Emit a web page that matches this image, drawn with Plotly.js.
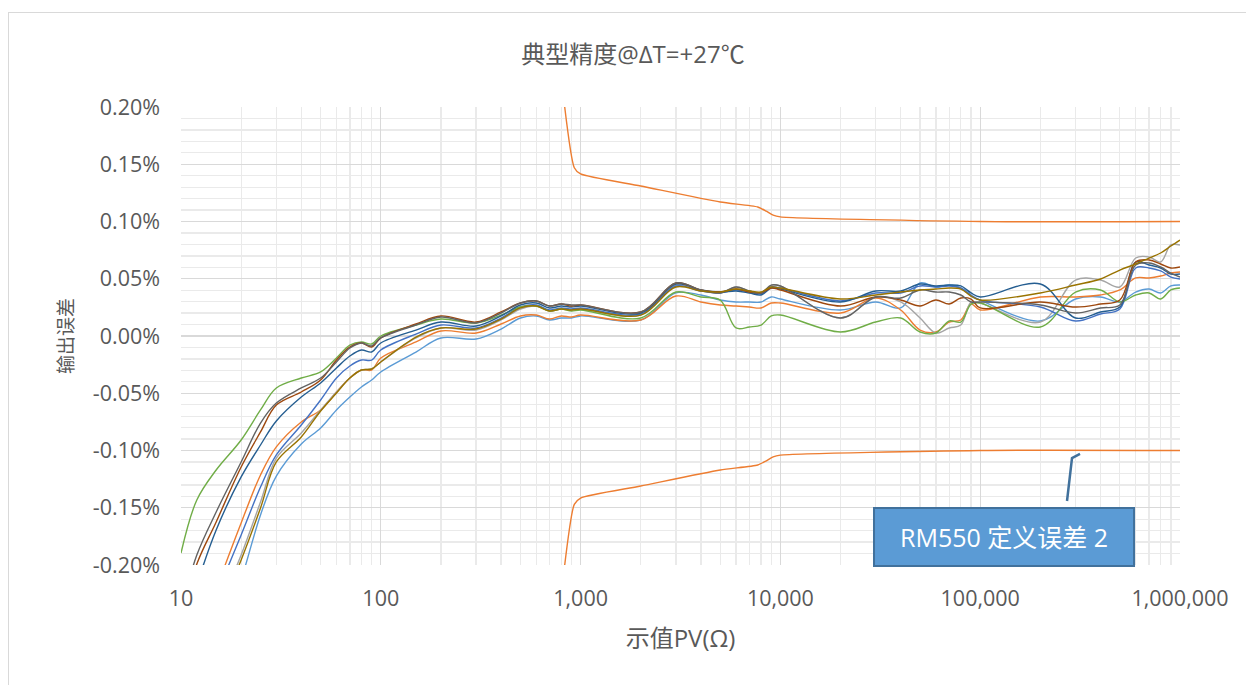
<!DOCTYPE html>
<html>
<head>
<meta charset="utf-8">
<script src="https://cdn.plot.ly/plotly-3.0.1.min.js"></script>
<style>
html,body{margin:0;padding:0;background:#fff;overflow:hidden;width:1246px;height:685px;}
#frame{position:absolute;left:8px;top:12px;width:1300px;height:720px;border:1px solid #d9d9d9;}
#chart{position:absolute;left:0;top:0;width:1246px;height:685px;}
</style>
</head>
<body>
<div id="frame"></div>
<div id="chart"></div>
<script>
// Resistance values (Ω) shared by the measured curves
const resistance = [10,12,15,20,25,30,40,50,60,70,80,90,
  100,150,200,300,400,500,600,700,800,900,
  1000,2000,3000,4000,5000,6000,7000,8000,9000,
  10000,20000,30000,40000,50000,60000,70000,80000,90000,
  100000,200000,300000,400000,500000,600000,700000,800000,900000,1000000];

// Output error (%) of each unit
const errLightBlue = [-0.3703,-0.3310,-0.2786,-0.2131,-0.1563,-0.1223,-0.0943,-0.0803,-0.0646,-0.0533,-0.0445,-0.0384,
  -0.0314,-0.0140,-0.0017,-0.0026,0.0061,0.0157,0.0175,0.0140,0.0157,0.0157,
  0.0175,0.0140,0.0376,0.0358,0.0314,0.0297,0.0297,0.0297,0.0341,
  0.0323,0.0227,0.0297,0.0245,0.0463,0.0428,0.0445,0.0419,0.0349,
  0.0314,0.0131,0.0323,0.0341,0.0297,0.0384,0.0410,0.0376,0.0437,0.0445];
const errOrange = [-0.3179,-0.2742,-0.2218,-0.1633,-0.1214,-0.0969,-0.0751,-0.0646,-0.0489,-0.0367,-0.0297,-0.0297,
  -0.0192,-0.0052,0.0044,0.0026,0.0105,0.0175,0.0183,0.0148,0.0175,0.0166,
  0.0183,0.0140,0.0349,0.0297,0.0271,0.0262,0.0253,0.0245,0.0288,
  0.0288,0.0201,0.0332,0.0227,0.0052,0.0035,0.0122,0.0140,0.0279,
  0.0227,0.0341,0.0341,0.0358,0.0402,0.0507,0.0507,0.0524,0.0550,0.0559];
const errGray = [-0.3397,-0.2960,-0.2437,-0.1913,-0.1450,-0.1066,-0.0847,-0.0646,-0.0489,-0.0367,-0.0297,-0.0288,
  -0.0227,-0.0017,0.0070,0.0052,0.0140,0.0236,0.0262,0.0218,0.0236,0.0227,
  0.0236,0.0183,0.0445,0.0393,0.0376,0.0428,0.0393,0.0376,0.0445,
  0.0437,0.0157,0.0341,0.0297,0.0157,0.0026,0.0070,0.0096,0.0297,
  0.0288,0.0122,0.0489,0.0489,0.0428,0.0681,0.0690,0.0646,0.0795,0.0795];
const errBlue = [-0.3092,-0.2655,-0.2262,-0.1738,-0.1319,-0.1039,-0.0777,-0.0559,-0.0367,-0.0262,-0.0210,-0.0210,
  -0.0122,0.0017,0.0096,0.0070,0.0157,0.0253,0.0271,0.0227,0.0245,0.0236,
  0.0245,0.0192,0.0437,0.0393,0.0376,0.0402,0.0384,0.0367,0.0428,
  0.0419,0.0306,0.0376,0.0376,0.0437,0.0428,0.0437,0.0419,0.0358,
  0.0314,0.0253,0.0131,0.0192,0.0236,0.0594,0.0594,0.0568,0.0515,0.0498];
const errGreen = [-0.1895,-0.1432,-0.1170,-0.0908,-0.0646,-0.0454,-0.0367,-0.0314,-0.0192,-0.0079,-0.0052,-0.0070,
  0.0000,0.0096,0.0148,0.0114,0.0183,0.0253,0.0262,0.0218,0.0236,0.0218,
  0.0227,0.0157,0.0384,0.0341,0.0314,0.0070,0.0079,0.0096,0.0175,
  0.0183,0.0035,0.0122,0.0157,0.0035,0.0026,0.0131,0.0122,0.0279,
  0.0288,0.0079,0.0384,0.0402,0.0297,0.0358,0.0376,0.0323,0.0402,0.0419];
const errDarkBlue = [-0.2655,-0.2175,-0.1694,-0.1231,-0.0952,-0.0742,-0.0533,-0.0410,-0.0279,-0.0175,-0.0122,-0.0140,
  -0.0061,0.0052,0.0122,0.0087,0.0175,0.0271,0.0288,0.0245,0.0262,0.0253,
  0.0262,0.0201,0.0454,0.0402,0.0384,0.0393,0.0376,0.0358,0.0419,
  0.0410,0.0297,0.0393,0.0393,0.0454,0.0437,0.0445,0.0437,0.0376,
  0.0341,0.0454,0.0157,0.0210,0.0253,0.0646,0.0620,0.0594,0.0541,0.0541];
const errBrown = [-0.2480,-0.1991,-0.1624,-0.1144,-0.0838,-0.0603,-0.0489,-0.0384,-0.0210,-0.0096,-0.0061,-0.0096,
  -0.0017,0.0105,0.0175,0.0122,0.0210,0.0288,0.0306,0.0262,0.0279,0.0262,
  0.0271,0.0210,0.0463,0.0402,0.0384,0.0410,0.0384,0.0376,0.0419,
  0.0402,0.0262,0.0341,0.0314,0.0262,0.0314,0.0279,0.0332,0.0323,
  0.0245,0.0297,0.0253,0.0279,0.0314,0.0646,0.0664,0.0629,0.0594,0.0603];
const errDarkGray = [-0.2393,-0.1913,-0.1537,-0.1100,-0.0760,-0.0585,-0.0454,-0.0367,-0.0227,-0.0105,-0.0061,-0.0087,
  -0.0017,0.0096,0.0166,0.0114,0.0201,0.0288,0.0306,0.0262,0.0279,0.0271,
  0.0271,0.0210,0.0463,0.0402,0.0376,0.0428,0.0393,0.0376,0.0445,
  0.0437,0.0157,0.0341,0.0332,0.0402,0.0384,0.0384,0.0358,0.0297,
  0.0297,0.0271,0.0201,0.0245,0.0271,0.0620,0.0638,0.0603,0.0550,0.0515];
const errGold = [-0.3441,-0.3004,-0.2480,-0.1956,-0.1502,-0.1100,-0.0882,-0.0655,-0.0498,-0.0367,-0.0297,-0.0288,
  -0.0227,-0.0009,0.0070,0.0061,0.0148,0.0245,0.0262,0.0218,0.0236,0.0227,
  0.0236,0.0183,0.0428,0.0393,0.0384,0.0410,0.0393,0.0384,0.0428,
  0.0419,0.0323,0.0358,0.0384,0.0402,0.0410,0.0419,0.0410,0.0349,
  0.0314,0.0376,0.0445,0.0498,0.0576,0.0629,0.0681,0.0725,0.0786,0.0838];

// Specification limits (%)
const limitResistance = [800,930,1000,2000,5000,7700,8500,9200,10000,100000,1000000];
const upperLimit = [0.226,0.147,0.1415,0.131,0.117,0.1127,0.109,0.1055,0.104,0.100,0.100];
const lowerLimit = [-0.226,-0.147,-0.1415,-0.131,-0.117,-0.1127,-0.109,-0.1055,-0.104,-0.100,-0.100];

// Axis ticks
const xTickVals = [10,100,1000,10000,100000,1000000];
const xTickText = ['10','100','1,000','10,000','100,000','1,000,000'];
const yTickVals = [-0.20,-0.15,-0.10,-0.05,0,0.05,0.10,0.15,0.20];
const yTickText = ['-0.20%','-0.15%','-0.10%','-0.05%','0.00%','0.05%','0.10%','0.15%','0.20%'];

const series = [
  {y: errLightBlue, c:'#5B9BD5'},
  {y: errOrange,    c:'#ED7D31'},
  {y: errGray,      c:'#A5A5A5'},
  {y: errBlue,      c:'#4472C4'},
  {y: errGreen,     c:'#70AD47'},
  {y: errDarkBlue,  c:'#255E91'},
  {y: errBrown,     c:'#9E480E'},
  {y: errDarkGray,  c:'#636363'},
  {y: errGold,      c:'#997300'}
];

const traces = series.map(s => ({
  x: resistance, y: s.y, type:'scatter', mode:'lines',
  line:{color:s.c, width:1.4, shape:'spline', smoothing:1},
  hoverinfo:'skip'
}));
traces.push({x: limitResistance, y: upperLimit, type:'scatter', mode:'lines',
  line:{color:'#ED7D31', width:1.4, shape:'spline', smoothing:0.6}, hoverinfo:'skip'});
traces.push({x: limitResistance, y: lowerLimit, type:'scatter', mode:'lines',
  line:{color:'#ED7D31', width:1.4, shape:'spline', smoothing:0.6}, hoverinfo:'skip'});

const latinFam = '"Open Sans", "Noto Sans CJK SC", sans-serif';
const cjkFam = '"Noto Sans CJK SC", "Open Sans", sans-serif';

const layout = {
  width:1246, height:685,
  margin:{l:181, r:66, t:107, b:120},
  paper_bgcolor:'rgba(0,0,0,0)', plot_bgcolor:'rgba(0,0,0,0)',
  showlegend:false,
  font:{family:latinFam, color:'#595959', size:18},
  title:{text:'典型精度@ΔT=+27℃', x:0.508, xanchor:'center', y:0.92, yanchor:'middle',
         font:{family:latinFam, size:24, color:'#595959'}},
  xaxis:{
    type:'log', range:[1,6], tickmode:'array', tickvals:xTickVals, ticktext:xTickText,
    showgrid:true, gridcolor:'#D9D9D9', gridwidth:1.3,
    minor:{dtick:'D1', showgrid:true, gridcolor:'#EAEAEA', gridwidth:1.3, ticks:''},
    zeroline:false, showline:false, ticks:'', ticklabelstandoff:18,
    tickfont:{family:latinFam, size:21.5, color:'#595959'},
    title:{text:'示值PV(Ω)', standoff:19, font:{family:latinFam, size:24, color:'#595959'}}
  },
  yaxis:{
    range:[-0.2,0.2], tickmode:'array', tickvals:yTickVals, ticktext:yTickText,
    showgrid:true, gridcolor:'#D9D9D9', gridwidth:1.3,
    minor:{tickmode:'linear', tick0:0, dtick:0.01, showgrid:true, gridcolor:'#EAEAEA', gridwidth:1.3, ticks:''},
    zeroline:false, showline:false, ticks:'', ticklabelstandoff:20,
    tickfont:{family:latinFam, size:21.5, color:'#595959'},
    title:{text:'输出误差', standoff:14, font:{family:cjkFam, size:19, color:'#595959'}}
  },
  shapes:[
    {type:'path', xref:'paper', yref:'paper',
     path:'M 0.8869 0.1397 L 0.8919 0.2336 L 0.8999 0.2424',
     line:{color:'#41719C', width:2.5}},
    {type:'rect', xref:'paper', yref:'paper', x0:0.6937, x1:0.954, y0:-0.002, y1:0.1245,
     fillcolor:'#5B9BD5', line:{color:'#41719C', width:2}, layer:'above'}
  ],
  annotations:[
    {text:'RM550 定义误差 2', xref:'paper', yref:'paper', x:0.8238, y:0.0611,
     xanchor:'center', yanchor:'middle', showarrow:false,
     font:{family:latinFam, size:25, color:'#FFFFFF'}}
  ]
};

Plotly.newPlot('chart', traces, layout, {staticPlot:true, displayModeBar:false});
</script>
</body>
</html>
